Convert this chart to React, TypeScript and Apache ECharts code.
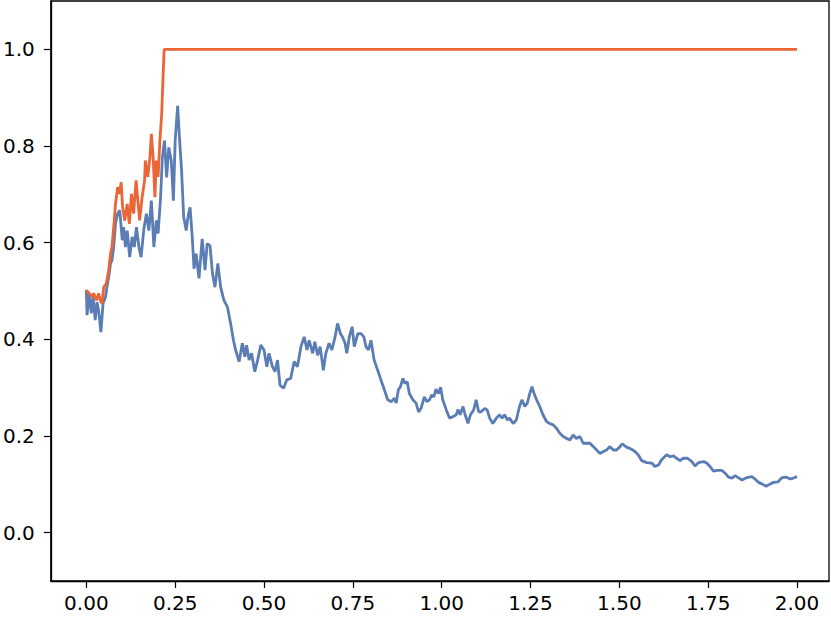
import React, { useEffect, useRef } from "react";
import * as echarts from "echarts";

// x ticks / y ticks
const xTicks = [0, 0.25, 0.5, 0.75, 1.0, 1.25, 1.5, 1.75, 2.0];
const yTicks = [0, 0.2, 0.4, 0.6, 0.8, 1.0];

// Blue series (time, value)
const blueT = [
  0.000, 0.002, 0.008, 0.014, 0.019, 0.025, 0.030, 0.035, 0.041, 0.047,
  0.054, 0.058, 0.063, 0.068, 0.072, 0.077, 0.082, 0.088, 0.094, 0.101,
  0.105, 0.110, 0.115, 0.122, 0.129, 0.135, 0.141, 0.148, 0.154, 0.162,
  0.169, 0.176, 0.183, 0.190, 0.197, 0.202, 0.209, 0.214, 0.220, 0.226,
  0.232, 0.239, 0.245, 0.250, 0.257, 0.262, 0.268, 0.274, 0.281, 0.287,
  0.292, 0.298, 0.303, 0.309, 0.317, 0.326, 0.334, 0.340, 0.348, 0.355,
  0.362, 0.370, 0.378, 0.387, 0.397, 0.406, 0.414, 0.420, 0.430, 0.439,
  0.446, 0.451, 0.458, 0.465, 0.474, 0.482, 0.491, 0.500, 0.508, 0.514,
  0.524, 0.531, 0.538, 0.545, 0.555, 0.564, 0.575, 0.585, 0.594, 0.604,
  0.613, 0.621, 0.627, 0.637, 0.643, 0.651, 0.658, 0.667, 0.674, 0.683,
  0.691, 0.700, 0.707, 0.715, 0.721, 0.728, 0.733, 0.740, 0.748, 0.754,
  0.764, 0.773, 0.781, 0.787, 0.794, 0.801, 0.810, 0.820, 0.829, 0.839,
  0.848, 0.858, 0.867, 0.872, 0.878, 0.884, 0.891, 0.897, 0.903, 0.909,
  0.919, 0.928, 0.935, 0.942, 0.951, 0.958, 0.966, 0.972, 0.978, 0.984,
  0.991, 0.997, 1.003, 1.013, 1.022, 1.032, 1.041, 1.046, 1.052, 1.060,
  1.066, 1.074, 1.081, 1.090, 1.097, 1.104, 1.111, 1.121, 1.128, 1.135,
  1.144, 1.154, 1.163, 1.170, 1.177, 1.185, 1.191, 1.201, 1.210, 1.219,
  1.226, 1.234, 1.241, 1.248, 1.254, 1.260, 1.267, 1.276, 1.285, 1.295,
  1.304, 1.314, 1.323, 1.332, 1.342, 1.351, 1.361, 1.370, 1.379, 1.389,
  1.398, 1.408, 1.417, 1.427, 1.436, 1.445, 1.455, 1.464, 1.473, 1.483,
  1.492, 1.502, 1.508, 1.520, 1.533, 1.544, 1.553, 1.563, 1.577, 1.591,
  1.600, 1.610, 1.619, 1.633, 1.643, 1.652, 1.661, 1.671, 1.680, 1.692,
  1.704, 1.713, 1.723, 1.737, 1.746, 1.755, 1.765, 1.774, 1.788, 1.798,
  1.807, 1.817, 1.826, 1.836, 1.845, 1.859, 1.873, 1.882, 1.892, 1.901,
  1.913, 1.925, 1.934, 1.946, 1.958, 1.969, 1.981, 1.990, 2.000,
];
const blueV = [
  0.502, 0.450, 0.495, 0.454, 0.488, 0.440, 0.477, 0.457, 0.415, 0.474,
  0.488, 0.508, 0.529, 0.557, 0.563, 0.591, 0.639, 0.660, 0.667, 0.605,
  0.632, 0.591, 0.625, 0.570, 0.612, 0.591, 0.632, 0.591, 0.570, 0.629,
  0.660, 0.625, 0.687, 0.591, 0.646, 0.619, 0.694, 0.777, 0.811, 0.735,
  0.797, 0.770, 0.687, 0.811, 0.883, 0.818, 0.749, 0.653, 0.625, 0.658,
  0.673, 0.612, 0.546, 0.577, 0.526, 0.608, 0.543, 0.598, 0.594, 0.536,
  0.508, 0.557, 0.508, 0.481, 0.467, 0.433, 0.398, 0.378, 0.354, 0.392,
  0.364, 0.388, 0.357, 0.371, 0.333, 0.357, 0.388, 0.378, 0.343, 0.371,
  0.343, 0.333, 0.357, 0.305, 0.299, 0.316, 0.319, 0.354, 0.343, 0.385,
  0.405, 0.378, 0.398, 0.371, 0.395, 0.367, 0.385, 0.336, 0.371, 0.392,
  0.378, 0.405, 0.433, 0.412, 0.405, 0.392, 0.371, 0.405, 0.426, 0.385,
  0.412, 0.412, 0.405, 0.385, 0.378, 0.398, 0.357, 0.336, 0.316, 0.295,
  0.275, 0.271, 0.278, 0.268, 0.295, 0.302, 0.319, 0.309, 0.312, 0.288,
  0.275, 0.268, 0.250, 0.257, 0.281, 0.271, 0.275, 0.285, 0.281, 0.297,
  0.288, 0.301, 0.275, 0.254, 0.237, 0.240, 0.244, 0.255, 0.244, 0.261,
  0.244, 0.226, 0.244, 0.254, 0.275, 0.250, 0.250, 0.257, 0.254, 0.237,
  0.226, 0.237, 0.244, 0.237, 0.244, 0.233, 0.237, 0.226, 0.233, 0.261,
  0.275, 0.261, 0.268, 0.288, 0.302, 0.288, 0.275, 0.261, 0.244, 0.230,
  0.226, 0.223, 0.216, 0.206, 0.199, 0.195, 0.192, 0.202, 0.195, 0.199,
  0.185, 0.185, 0.185, 0.178, 0.171, 0.164, 0.168, 0.171, 0.178, 0.171,
  0.171, 0.178, 0.184, 0.177, 0.173, 0.168, 0.161, 0.149, 0.145, 0.144,
  0.137, 0.140, 0.151, 0.161, 0.157, 0.159, 0.154, 0.149, 0.154, 0.154,
  0.147, 0.138, 0.145, 0.147, 0.144, 0.137, 0.127, 0.129, 0.129, 0.123,
  0.115, 0.113, 0.118, 0.113, 0.109, 0.114, 0.116, 0.111, 0.104, 0.101,
  0.096, 0.101, 0.104, 0.105, 0.114, 0.115, 0.111, 0.113, 0.116,
];

// Orange series (time, value)
const orangeT = [
  0.000, 0.008, 0.014, 0.021, 0.028, 0.035, 0.039, 0.044, 0.049, 0.056,
  0.063, 0.068, 0.072, 0.077, 0.082, 0.088, 0.093, 0.098, 0.102, 0.108,
  0.115, 0.121, 0.127, 0.133, 0.140, 0.145, 0.150, 0.157, 0.164, 0.166,
  0.173, 0.179, 0.183, 0.188, 0.193, 0.197, 0.202, 0.207, 0.212, 0.216,
  0.219, 2.000,
];
const orangeV = [
  0.502, 0.495, 0.488, 0.495, 0.481, 0.495, 0.481, 0.474, 0.508, 0.515,
  0.543, 0.577, 0.591, 0.632, 0.680, 0.715, 0.701, 0.725, 0.674, 0.646,
  0.680, 0.639, 0.701, 0.660, 0.729, 0.687, 0.646, 0.694, 0.729, 0.770,
  0.736, 0.777, 0.825, 0.777, 0.694, 0.770, 0.736, 0.811, 0.866, 0.945,
  1.000, 1.000,
];

const BLUE = "#5A7DB6";
const ORANGE = "#EC6536";
const FONT = "DejaVu Sans";

export default function App() {
  const ref = useRef<HTMLDivElement>(null);
  useEffect(() => {
    if (!ref.current) return;
    const chart = echarts.init(ref.current, undefined, { renderer: "svg" });
    const blueData = blueT.map((t, i) => [t, blueV[i]]);
    const orangeData = orangeT.map((t, i) => [t, orangeV[i]]);
    chart.setOption({
      animation: false,
      backgroundColor: "#ffffff",
      grid: {
        left: 50,
        top: 1,
        width: 779,
        height: 580,
        show: true,
        borderColor: "#000",
        borderWidth: 1.3,
        backgroundColor: "transparent",
      },
      xAxis: {
        type: "value",
        min: -0.1,
        max: 2.09,
        splitLine: { show: false },
        axisLine: { show: true, onZero: false, lineStyle: { color: "#000", width: 1.3 } },
        axisTick: {
          show: true,
          length: 7,
          customValues: xTicks,
          lineStyle: { color: "#000", width: 1.2 },
        },
        axisLabel: {
          customValues: xTicks,
          formatter: (v: number) => v.toFixed(2),
          color: "#000",
          fontFamily: FONT,
          fontSize: 20,
          margin: 12,
        },
      },
      yAxis: {
        type: "value",
        min: -0.1,
        max: 1.1,
        splitLine: { show: false },
        axisLine: { show: true, onZero: false, lineStyle: { color: "#000", width: 1.3 } },
        axisTick: {
          show: true,
          length: 7,
          customValues: yTicks,
          lineStyle: { color: "#000", width: 1.2 },
        },
        axisLabel: {
          customValues: yTicks,
          formatter: (v: number) => v.toFixed(1),
          color: "#000",
          fontFamily: FONT,
          fontSize: 20,
          margin: 16,
        },
      },
      series: [
        {
          type: "line",
          data: blueData,
          showSymbol: false,
          symbol: "none",
          lineStyle: { color: BLUE, width: 2.8 },
          itemStyle: { color: BLUE },
        },
        {
          type: "line",
          data: orangeData,
          showSymbol: false,
          symbol: "none",
          lineStyle: { color: ORANGE, width: 2.8 },
          itemStyle: { color: ORANGE },
        },
      ],
    });
    return () => chart.dispose();
  }, []);
  return (
    <div
      ref={ref}
      style={{ position: "fixed", left: 0, top: 0, width: 831, height: 618, background: "#fff" }}
    />
  );
}
